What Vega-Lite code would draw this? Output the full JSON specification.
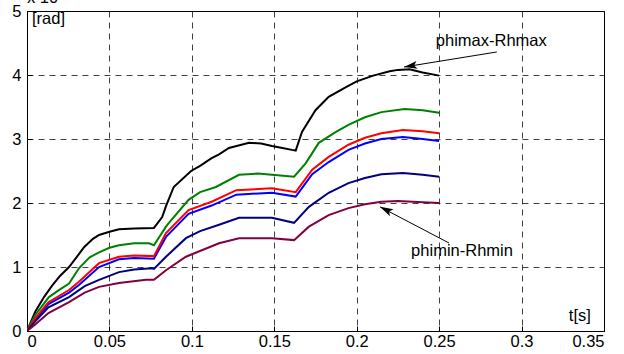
{
  "$schema": "https://vega.github.io/schema/vega-lite/v6.json",
  "width": 577,
  "height": 320,
  "autosize": {"type": "none"},
  "padding": {"left": 27, "top": 11, "right": 20, "bottom": 23},
  "background": "white",
  "view": {"stroke": "black", "strokeWidth": 1},
  "config": {
    "font": "Liberation Sans",
    "axis": {
      "labelFont": "Liberation Sans",
      "labelFontSize": 16.5,
      "labelColor": "black",
      "domainColor": "black",
      "tickColor": "black",
      "ticks": true,
      "tickSize": -5,
      "grid": true,
      "gridColor": "black",
      "gridDash": [6, 5],
      "gridOpacity": 0.75,
      "title": null
    }
  },
  "datasets": {
    "curves": [
      {"s": "phimax", "t": 0, "v": 0}, {"s": "phimax", "t": 0.005, "v": 0.3}, {"s": "phimax", "t": 0.0103, "v": 0.53}, {"s": "phimax", "t": 0.015, "v": 0.7}, {"s": "phimax", "t": 0.02, "v": 0.86}, {"s": "phimax", "t": 0.0255, "v": 1.0}, {"s": "phimax", "t": 0.03, "v": 1.15}, {"s": "phimax", "t": 0.0346, "v": 1.31}, {"s": "phimax", "t": 0.04, "v": 1.44}, {"s": "phimax", "t": 0.0437, "v": 1.5}, {"s": "phimax", "t": 0.05, "v": 1.55}, {"s": "phimax", "t": 0.0558, "v": 1.59}, {"s": "phimax", "t": 0.065, "v": 1.6}, {"s": "phimax", "t": 0.077, "v": 1.61}, {"s": "phimax", "t": 0.082, "v": 1.78}, {"s": "phimax", "t": 0.0843, "v": 1.95}, {"s": "phimax", "t": 0.089, "v": 2.25}, {"s": "phimax", "t": 0.0995, "v": 2.5}, {"s": "phimax", "t": 0.105, "v": 2.58}, {"s": "phimax", "t": 0.112, "v": 2.7}, {"s": "phimax", "t": 0.1165, "v": 2.76}, {"s": "phimax", "t": 0.1225, "v": 2.86}, {"s": "phimax", "t": 0.1347, "v": 2.94}, {"s": "phimax", "t": 0.142, "v": 2.93}, {"s": "phimax", "t": 0.1486, "v": 2.89}, {"s": "phimax", "t": 0.155, "v": 2.86}, {"s": "phimax", "t": 0.1607, "v": 2.83}, {"s": "phimax", "t": 0.163, "v": 2.82}, {"s": "phimax", "t": 0.1668, "v": 3.11}, {"s": "phimax", "t": 0.175, "v": 3.45}, {"s": "phimax", "t": 0.183, "v": 3.66}, {"s": "phimax", "t": 0.1935, "v": 3.81}, {"s": "phimax", "t": 0.2, "v": 3.9}, {"s": "phimax", "t": 0.21, "v": 3.99}, {"s": "phimax", "t": 0.22, "v": 4.06}, {"s": "phimax", "t": 0.225, "v": 4.08}, {"s": "phimax", "t": 0.232, "v": 4.09}, {"s": "phimax", "t": 0.24, "v": 4.04}, {"s": "phimax", "t": 0.25, "v": 3.99},

      {"s": "g", "t": 0, "v": 0}, {"s": "g", "t": 0.005, "v": 0.25}, {"s": "g", "t": 0.0133, "v": 0.53}, {"s": "g", "t": 0.02, "v": 0.65}, {"s": "g", "t": 0.0255, "v": 0.74}, {"s": "g", "t": 0.0315, "v": 0.98}, {"s": "g", "t": 0.038, "v": 1.15}, {"s": "g", "t": 0.0437, "v": 1.23}, {"s": "g", "t": 0.05, "v": 1.3}, {"s": "g", "t": 0.0558, "v": 1.34}, {"s": "g", "t": 0.065, "v": 1.37}, {"s": "g", "t": 0.074, "v": 1.37}, {"s": "g", "t": 0.077, "v": 1.34}, {"s": "g", "t": 0.0843, "v": 1.63}, {"s": "g", "t": 0.0861, "v": 1.69}, {"s": "g", "t": 0.098, "v": 2.05}, {"s": "g", "t": 0.105, "v": 2.17}, {"s": "g", "t": 0.1146, "v": 2.25}, {"s": "g", "t": 0.1286, "v": 2.44}, {"s": "g", "t": 0.14, "v": 2.46}, {"s": "g", "t": 0.1486, "v": 2.44}, {"s": "g", "t": 0.162, "v": 2.41}, {"s": "g", "t": 0.169, "v": 2.62}, {"s": "g", "t": 0.177, "v": 2.94}, {"s": "g", "t": 0.1874, "v": 3.11}, {"s": "g", "t": 0.195, "v": 3.22}, {"s": "g", "t": 0.205, "v": 3.34}, {"s": "g", "t": 0.215, "v": 3.42}, {"s": "g", "t": 0.229, "v": 3.47}, {"s": "g", "t": 0.24, "v": 3.45}, {"s": "g", "t": 0.25, "v": 3.41},

      {"s": "b", "t": 0, "v": 0}, {"s": "b", "t": 0.005, "v": 0.18}, {"s": "b", "t": 0.013, "v": 0.42}, {"s": "b", "t": 0.0255, "v": 0.6}, {"s": "b", "t": 0.0315, "v": 0.72}, {"s": "b", "t": 0.0437, "v": 1.0}, {"s": "b", "t": 0.0558, "v": 1.12}, {"s": "b", "t": 0.065, "v": 1.14}, {"s": "b", "t": 0.077, "v": 1.13}, {"s": "b", "t": 0.0843, "v": 1.47}, {"s": "b", "t": 0.098, "v": 1.83}, {"s": "b", "t": 0.112, "v": 1.96}, {"s": "b", "t": 0.127, "v": 2.13}, {"s": "b", "t": 0.1486, "v": 2.16}, {"s": "b", "t": 0.163, "v": 2.1}, {"s": "b", "t": 0.173, "v": 2.45}, {"s": "b", "t": 0.183, "v": 2.64}, {"s": "b", "t": 0.195, "v": 2.83}, {"s": "b", "t": 0.205, "v": 2.93}, {"s": "b", "t": 0.215, "v": 3.0}, {"s": "b", "t": 0.228, "v": 3.03}, {"s": "b", "t": 0.24, "v": 3.0}, {"s": "b", "t": 0.25, "v": 2.97},

      {"s": "r", "t": 0, "v": 0}, {"s": "r", "t": 0.005, "v": 0.2}, {"s": "r", "t": 0.013, "v": 0.45}, {"s": "r", "t": 0.0255, "v": 0.64}, {"s": "r", "t": 0.0315, "v": 0.77}, {"s": "r", "t": 0.0437, "v": 1.06}, {"s": "r", "t": 0.0558, "v": 1.16}, {"s": "r", "t": 0.065, "v": 1.18}, {"s": "r", "t": 0.077, "v": 1.17}, {"s": "r", "t": 0.0843, "v": 1.53}, {"s": "r", "t": 0.098, "v": 1.89}, {"s": "r", "t": 0.112, "v": 2.02}, {"s": "r", "t": 0.127, "v": 2.2}, {"s": "r", "t": 0.1486, "v": 2.23}, {"s": "r", "t": 0.163, "v": 2.17}, {"s": "r", "t": 0.173, "v": 2.52}, {"s": "r", "t": 0.183, "v": 2.72}, {"s": "r", "t": 0.195, "v": 2.91}, {"s": "r", "t": 0.205, "v": 3.02}, {"s": "r", "t": 0.215, "v": 3.09}, {"s": "r", "t": 0.228, "v": 3.14}, {"s": "r", "t": 0.24, "v": 3.12}, {"s": "r", "t": 0.25, "v": 3.09},

      {"s": "n", "t": 0, "v": 0}, {"s": "n", "t": 0.005, "v": 0.15}, {"s": "n", "t": 0.013, "v": 0.37}, {"s": "n", "t": 0.0255, "v": 0.53}, {"s": "n", "t": 0.035, "v": 0.7}, {"s": "n", "t": 0.0437, "v": 0.8}, {"s": "n", "t": 0.0558, "v": 0.92}, {"s": "n", "t": 0.065, "v": 0.96}, {"s": "n", "t": 0.0758, "v": 0.98}, {"s": "n", "t": 0.077, "v": 0.97}, {"s": "n", "t": 0.0843, "v": 1.16}, {"s": "n", "t": 0.0964, "v": 1.45}, {"s": "n", "t": 0.105, "v": 1.56}, {"s": "n", "t": 0.1165, "v": 1.66}, {"s": "n", "t": 0.1286, "v": 1.77}, {"s": "n", "t": 0.1486, "v": 1.77}, {"s": "n", "t": 0.162, "v": 1.69}, {"s": "n", "t": 0.171, "v": 1.94}, {"s": "n", "t": 0.183, "v": 2.16}, {"s": "n", "t": 0.195, "v": 2.31}, {"s": "n", "t": 0.205, "v": 2.39}, {"s": "n", "t": 0.215, "v": 2.45}, {"s": "n", "t": 0.228, "v": 2.47}, {"s": "n", "t": 0.24, "v": 2.44}, {"s": "n", "t": 0.25, "v": 2.41},

      {"s": "phimin", "t": 0, "v": 0}, {"s": "phimin", "t": 0.005, "v": 0.1}, {"s": "phimin", "t": 0.013, "v": 0.28}, {"s": "phimin", "t": 0.0255, "v": 0.45}, {"s": "phimin", "t": 0.035, "v": 0.6}, {"s": "phimin", "t": 0.0437, "v": 0.69}, {"s": "phimin", "t": 0.0558, "v": 0.75}, {"s": "phimin", "t": 0.0722, "v": 0.8}, {"s": "phimin", "t": 0.077, "v": 0.8}, {"s": "phimin", "t": 0.0843, "v": 0.95}, {"s": "phimin", "t": 0.0964, "v": 1.16}, {"s": "phimin", "t": 0.1165, "v": 1.37}, {"s": "phimin", "t": 0.1286, "v": 1.45}, {"s": "phimin", "t": 0.1486, "v": 1.45}, {"s": "phimin", "t": 0.162, "v": 1.42}, {"s": "phimin", "t": 0.171, "v": 1.63}, {"s": "phimin", "t": 0.183, "v": 1.81}, {"s": "phimin", "t": 0.195, "v": 1.92}, {"s": "phimin", "t": 0.205, "v": 1.98}, {"s": "phimin", "t": 0.215, "v": 2.02}, {"s": "phimin", "t": 0.225, "v": 2.03}, {"s": "phimin", "t": 0.24, "v": 2.01}, {"s": "phimin", "t": 0.25, "v": 2.0}
    ],
    "arrows": [
      {"t": 0.285, "v": 4.36, "t2": 0.2287, "v2": 4.125, "ang": 261},
      {"t": 0.256, "v": 1.375, "t2": 0.2141, "v2": 1.94, "ang": 297}
    ],
    "labelsLeft": [
      {"t": 0.248, "v": 4.53, "txt": "phimax-Rhmax"},
      {"t": 0.233, "v": 1.25, "txt": "phimin-Rhmin"},
      {"t": 0.003, "v": 4.875, "txt": "[rad]"}
    ],
    "labelsRight": [
      {"t": 0.342, "v": 0.23, "txt": "t[s]"}
    ]
  },
  "layer": [
    {
      "data": {"name": "curves"},
      "mark": {"type": "line", "strokeWidth": 2, "clip": true},
      "encoding": {
        "x": {"field": "t", "type": "quantitative", "scale": {"domain": [0, 0.35], "nice": false}, "axis": {"values": [0, 0.05, 0.1, 0.15, 0.2, 0.25, 0.3, 0.35], "format": "~g", "labelPadding": 7}},
        "y": {"field": "v", "type": "quantitative", "scale": {"domain": [0, 5], "nice": false}, "axis": {"values": [0, 1, 2, 3, 4, 5], "format": "d", "labelPadding": 11}},
        "color": {"field": "s", "type": "nominal", "legend": null, "scale": {"domain": ["phimax", "g", "b", "r", "n", "phimin"], "range": ["#000000", "#008000", "#0000ff", "#ff0000", "#000080", "#800040"]}},
        "order": {"field": "t", "type": "quantitative"}
      }
    },
    {
      "data": {"name": "arrows"},
      "mark": {"type": "rule", "color": "black", "strokeWidth": 1},
      "encoding": {
        "x": {"field": "t", "type": "quantitative"},
        "y": {"field": "v", "type": "quantitative"},
        "x2": {"field": "t2"},
        "y2": {"field": "v2"}
      }
    },
    {
      "data": {"name": "arrows"},
      "mark": {"type": "point", "shape": "M0,0L0.65,2.2L0,1.7L-0.65,2.2Z", "filled": true, "color": "black", "size": 144, "opacity": 1, "strokeWidth": 0},
      "encoding": {
        "x": {"field": "t2", "type": "quantitative"},
        "y": {"field": "v2", "type": "quantitative"},
        "angle": {"field": "ang", "type": "quantitative", "scale": null}
      }
    },
    {
      "data": {"name": "labelsLeft"},
      "mark": {"type": "text", "fontSize": 16.5, "color": "black", "font": "Liberation Sans", "baseline": "middle", "align": "left"},
      "encoding": {
        "x": {"field": "t", "type": "quantitative"},
        "y": {"field": "v", "type": "quantitative"},
        "text": {"field": "txt"}
      }
    },
    {
      "data": {"name": "labelsRight"},
      "mark": {"type": "text", "fontSize": 16.5, "color": "black", "font": "Liberation Sans", "baseline": "middle", "align": "right"},
      "encoding": {
        "x": {"field": "t", "type": "quantitative"},
        "y": {"field": "v", "type": "quantitative"},
        "text": {"field": "txt"}
      }
    },
    {
      "data": {"values": [{"t": 0, "v": 5, "txt": "x 10"}]},
      "mark": {"type": "text", "fontSize": 16.5, "color": "black", "font": "Liberation Sans", "align": "left", "baseline": "alphabetic", "dy": -8},
      "encoding": {
        "x": {"field": "t", "type": "quantitative"},
        "y": {"field": "v", "type": "quantitative"},
        "text": {"field": "txt"}
      }
    }
  ]
}
